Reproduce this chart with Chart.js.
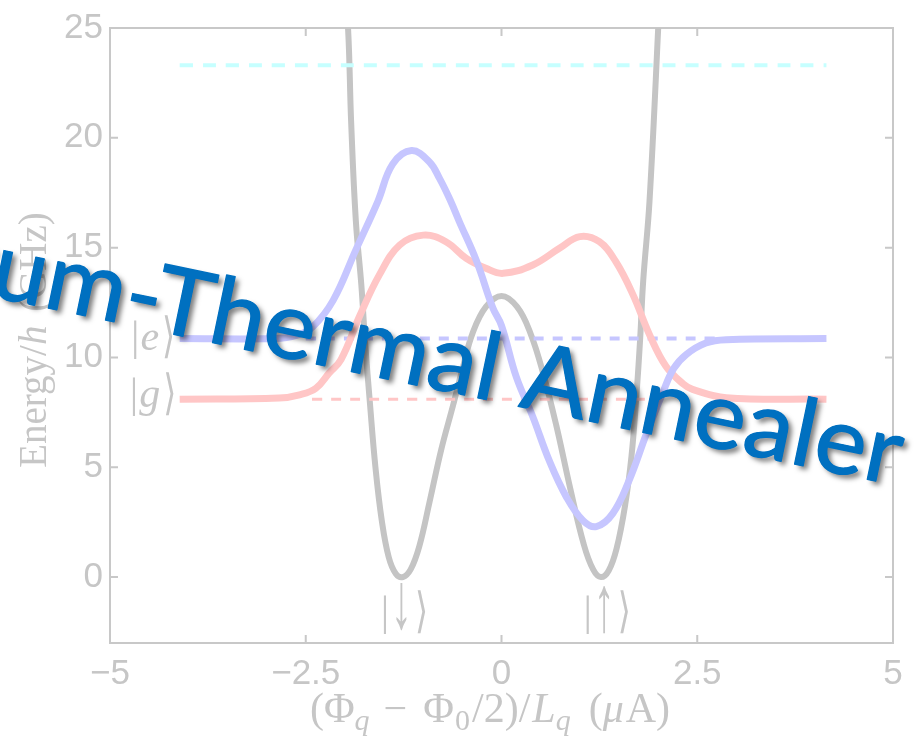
<!DOCTYPE html>
<html><head><meta charset="utf-8">
<script src="https://cdn.jsdelivr.net/npm/chart.js@4.4.1/dist/chart.umd.min.js"></script>
<style>html,body{margin:0;padding:0;background:#fff;}canvas{display:block;}</style>
</head><body>
<canvas id="c" width="924" height="743"></canvas>
<script>
// ---- data ----
const X_TICKS = [-5, -2.5, 0, 2.5, 5];
const Y_TICKS = [0, 5, 10, 15, 20, 25];

// double-well potential (gray)
const potentialX = [-2.02, -1.96, -1.92, -1.86, -1.79, -1.74, -1.68, -1.61, -1.53, -1.44, -1.35, -1.26, -1.16, -1.05, -0.92, -0.77, -0.62, -0.49, -0.37, -0.20, 0.00, 0.20, 0.37, 0.53, 0.70, 0.88, 1.05, 1.17, 1.27, 1.37, 1.47, 1.58, 1.66, 1.72, 1.77, 1.81, 1.89, 2.00, 2.03];
const potentialY = [27.5, 25.0, 20.7, 16.2, 13.3, 10.6, 7.9, 5.0, 2.6, 0.9, 0.15, 0.0, 0.35, 1.4, 3.4, 5.8, 7.8, 9.6, 11.1, 12.3, 12.8, 12.3, 11.1, 9.3, 6.9, 4.0, 1.5, 0.35, 0.0, 0.3, 1.3, 3.3, 5.5, 8.1, 10.8, 13.5, 17.1, 24.9, 27.5];

// excited state |e> (blue)
const excitedX = [-4.11, -2.90, -2.62, -2.41, -2.15, -1.86, -1.58, -1.39, -1.15, -0.92, -0.79, -0.66, -0.54, -0.32, -0.11, 0.00, 0.19, 0.40, 0.61, 0.83, 1.04, 1.21, 1.42, 1.63, 1.85, 2.06, 2.20, 2.36, 2.61, 2.87, 4.15];
const excitedY = [10.86, 10.86, 11.0, 11.4, 12.6, 14.9, 17.1, 18.8, 19.42, 18.9, 18.14, 17.2, 16.2, 14.4, 12.25, 11.45, 9.1, 7.3, 5.3, 3.64, 2.58, 2.3, 2.89, 4.4, 6.51, 8.4, 9.5, 10.14, 10.66, 10.81, 10.86];

// ground state |g> (red)
const groundX = [-4.11, -2.84, -2.58, -2.37, -2.20, -2.05, -1.81, -1.56, -1.30, -1.00, -0.71, -0.45, -0.20, 0.02, 0.40, 0.74, 1.00, 1.25, 1.46, 1.68, 1.89, 2.10, 2.32, 2.44, 2.87, 4.15];
const groundY = [8.1, 8.15, 8.3, 8.6, 9.3, 9.9, 11.9, 13.76, 15.12, 15.57, 15.27, 14.51, 14.06, 13.83, 14.21, 14.97, 15.5, 15.27, 14.36, 12.85, 11.04, 9.6, 8.8, 8.55, 8.17, 8.1];

// dashed reference levels
const eLevelX = [-2.5, 2.75];   const eLevelY = [10.86, 10.86];
const gLevelX = [-2.42, 2.05];  const gLevelY = [8.1, 8.1];
const topLevelX = [-4.11, 4.15]; const topLevelY = [23.3, 23.3];

// ---- styling ----
const TXT = '#c6c6c6';
const SERIF = '"Liberation Serif","DejaVu Serif",serif';
function pts(xs, ys) { return xs.map((x, i) => ({ x: x, y: ys[i] })); }
function fmt(v) { return v < 0 ? '\u2212' + Math.abs(v) : String(v); }

function drawSegments(ctx, segs, cx, cy) {
  let w = 0;
  segs.forEach(s => { ctx.font = s.f; s.w = ctx.measureText(s.t).width * (s.sx || 1) + (s.gap || 0); w += s.w; });
  let x = cx - w / 2;
  segs.forEach(s => {
    ctx.font = s.f;
    const y = cy + (s.dy || 0);
    if (s.sy || s.sx) {
      ctx.save();
      ctx.translate(x, y);
      ctx.scale(s.sx || 1, s.sy || 1);
      ctx.fillText(s.t, 0, 0);
      ctx.restore();
    } else {
      ctx.fillText(s.t, x, y);
    }
    x += s.w;
  });
}

const decor = {
  id: 'decor',
  beforeDatasetsDraw(chart) {
    const { ctx, chartArea: a, scales } = chart;
    ctx.save();
    ctx.strokeStyle = '#c8c8c8';
    ctx.lineWidth = 2;
    ctx.strokeRect(a.left, a.top, a.right - a.left, a.bottom - a.top);
    const tl = 8;
    ctx.beginPath();
    X_TICKS.forEach(v => {
      const px = scales.x.getPixelForValue(v);
      ctx.moveTo(px, a.bottom); ctx.lineTo(px, a.bottom - tl);
      ctx.moveTo(px, a.top); ctx.lineTo(px, a.top + tl);
    });
    Y_TICKS.forEach(v => {
      const py = scales.y.getPixelForValue(v);
      ctx.moveTo(a.left, py); ctx.lineTo(a.left + tl, py);
      ctx.moveTo(a.right, py); ctx.lineTo(a.right - tl, py);
    });
    ctx.stroke();
    ctx.restore();
  },
  afterDatasetsDraw(chart) {
    const { ctx, scales } = chart;
    const X = v => scales.x.getPixelForValue(v), Y = v => scales.y.getPixelForValue(v);
    ctx.save();
    ctx.fillStyle = TXT;
    ctx.textBaseline = 'alphabetic';
    const n = '42px ' + SERIF, it = 'italic 42px ' + SERIF, br = '42px "DejaVu Serif",serif';
    // state labels
    drawSegments(ctx, [{ t: '|', f: n, gap: 1 }, { t: 'e', f: it, gap: 3 }, { t: '\u27E9', f: br, sx: 0.8, sy: 1.15, dy: 2 }], X(-4.45), Y(10.86) + 11);
    drawSegments(ctx, [{ t: '|', f: n, gap: 1 }, { t: 'g', f: it, gap: 3 }, { t: '\u27E9', f: br, sx: 0.8, sy: 1.15, dy: 2 }], X(-4.45), Y(8.1) + 8);
    drawSegments(ctx, [{ t: '|', f: n, gap: 2 }, { t: '\u2193', f: n, sx: 1.0, sy: 1.9, dy: 3, gap: 3 }, { t: '\u27E9', f: br, sx: 0.8, sy: 1.15, dy: 2 }], X(-1.24), Y(-2.2));
    drawSegments(ctx, [{ t: '|', f: n, gap: 2 }, { t: '\u2191', f: n, sx: 1.0, sy: 1.9, dy: 6, gap: 3 }, { t: '\u27E9', f: br, sx: 0.8, sy: 1.15, dy: 2 }], X(1.35), Y(-2.2));
    // x axis title
    const xf = '42px ' + SERIF, xi = 'italic 42px ' + SERIF, xs = 'italic 30px ' + SERIF, xs0 = '30px ' + SERIF;
    drawSegments(ctx, [
      { t: '(', f: xf }, { t: '\u03A6', f: xf }, { t: 'q', f: xs, dy: 8, gap: 14 },
      { t: '\u2212', f: xf, gap: 16 }, { t: '\u03A6', f: xf, gap: 1 }, { t: '0', f: xs0, dy: 8, gap: 2 },
      { t: '/2)/', f: xf, gap: 2 }, { t: 'L', f: xi }, { t: 'q', f: xs, dy: 8, gap: 18 },
      { t: '(', f: xf }, { t: '\u03BC', f: xi, gap: 2 }, { t: 'A)', f: xf }
    ], 490, 722);
    // y axis title
    ctx.translate(46, 340);
    ctx.rotate(-Math.PI / 2);
    const yf = '39px ' + SERIF, yi = 'italic 39px ' + SERIF;
    drawSegments(ctx, [{ t: 'Energy/', f: yf }, { t: 'h', f: yi, gap: 4 }, { t: ' (GHz)', f: yf }], 0, 0);
    ctx.restore();
  },
  afterDraw(chart) {
    const ctx = chart.ctx;
    ctx.save();
    const size = 94;
    ctx.font = size + 'px Lato, "Open Sans", sans-serif';
    const hyph = ctx.measureText('-').width;
    const mid = ctx.measureText('Thermal Annealer').width - ctx.measureText('r').width;
    const f = 750 / (hyph / 2 + mid + 0.06 * size);
    const lead = ctx.measureText('Quantum').width + hyph / 2;
    ctx.translate(138, 327);
    ctx.rotate(11.8 * Math.PI / 180);
    ctx.scale(f, 1);
    ctx.fillStyle = '#0070C0';
    ctx.strokeStyle = '#0070C0';
    ctx.lineWidth = 1.2;
    ctx.lineJoin = 'round';
    ctx.textBaseline = 'alphabetic';
    ctx.shadowColor = 'rgba(0,0,0,0.5)';
    ctx.shadowOffsetX = 4; ctx.shadowOffsetY = 4; ctx.shadowBlur = 5;
    ctx.fillText('Quantum-Thermal Annealer', -lead, 0);
    ctx.shadowColor = 'rgba(0,0,0,0)';
    ctx.strokeText('Quantum-Thermal Annealer', -lead, 0);
    ctx.fillText('Quantum-Thermal Annealer', -lead, 0);
    ctx.restore();
  }
};

const common = { showLine: true, pointRadius: 0, fill: false, tension: 0.4, borderCapStyle: 'butt', borderJoinStyle: 'round' };
new Chart(document.getElementById('c'), {
  type: 'scatter',
  data: {
    datasets: [
      Object.assign({ data: pts(excitedX, excitedY), borderColor: '#c6c6ff', borderWidth: 7, order: 1 }, common),
      Object.assign({ data: pts(groundX, groundY), borderColor: '#ffc6c6', borderWidth: 7, order: 2 }, common),
      Object.assign({ data: pts(eLevelX, eLevelY), borderColor: '#c6c6ff', borderWidth: 4, borderDash: [10, 9], order: 3 }, common),
      Object.assign({ data: pts(gLevelX, gLevelY), borderColor: '#ffc6c6', borderWidth: 3, borderDash: [10, 9], order: 4 }, common),
      Object.assign({ data: pts(topLevelX, topLevelY), borderColor: '#c6ffff', borderWidth: 4, borderDash: [13, 10], order: 5 }, common),
      Object.assign({ data: pts(potentialX, potentialY), borderColor: '#c4c4c4', borderWidth: 6, order: 6, clip: 0 }, common)
    ]
  },
  options: {
    responsive: false, animation: false, devicePixelRatio: 1,
    layout: { padding: { left: 0, right: 31, top: 25, bottom: 0 } },
    plugins: { legend: { display: false }, tooltip: { enabled: false } },
    scales: {
      x: {
        type: 'linear', min: -5, max: 5,
        grid: { display: false, drawTicks: false }, border: { display: false },
        afterFit(s) { s.height = 100; },
        afterBuildTicks(s) { s.ticks = X_TICKS.map(v => ({ value: v })); },
        ticks: { padding: 10, color: TXT, font: { family: '"Liberation Sans", Arial, sans-serif', size: 35 }, callback: fmt, maxRotation: 0, autoSkip: false }
      },
      y: {
        type: 'linear', min: -3, max: 25,
        grid: { display: false, drawTicks: false }, border: { display: false },
        afterFit(s) { s.width = 110; },
        afterBuildTicks(s) { s.ticks = Y_TICKS.map(v => ({ value: v })); },
        ticks: { padding: 7, color: TXT, font: { family: '"Liberation Sans", Arial, sans-serif', size: 35 }, callback: fmt, autoSkip: false }
      }
    }
  },
  plugins: [decor]
});
</script>
</body></html>
